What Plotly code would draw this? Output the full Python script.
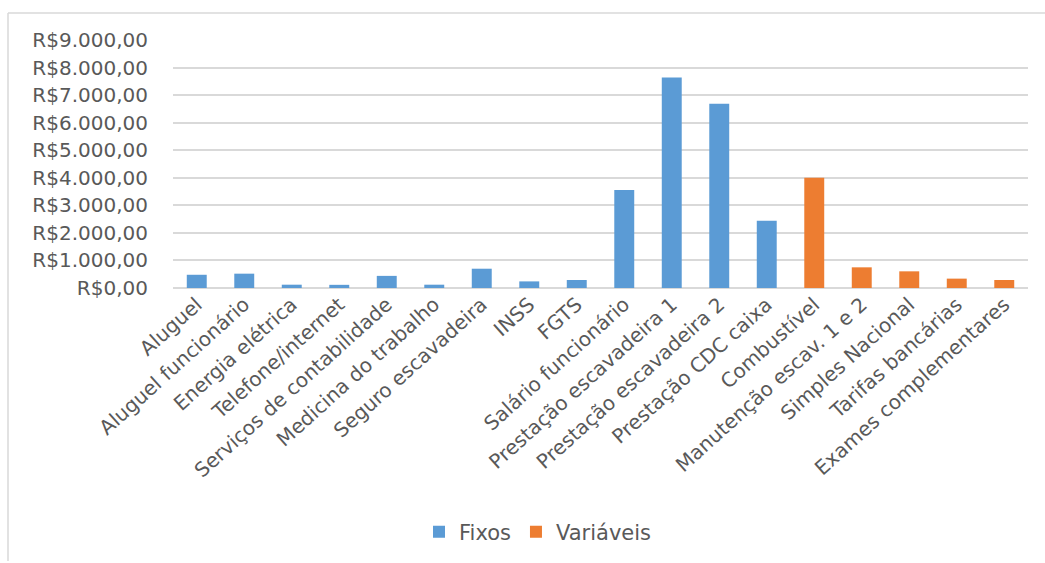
import plotly.graph_objects as go

# Cost categories in chart order
categorias = [
    "Aluguel", "Aluguel funcionário", "Energia elétrica", "Telefone/internet",
    "Serviços de contabilidade", "Medicina do trabalho", "Seguro escavadeira",
    "INSS", "FGTS", "Salário funcionário", "Prestação escavadeira 1",
    "Prestação escavadeira 2", "Prestação CDC caixa", "Combustível",
    "Manutenção escav. 1 e 2", "Simples Nacional", "Tarifas bancárias",
    "Exames complementares",
]

# Fixed costs (R$)
fixos = [480, 520, 120, 115, 440, 120, 700, 240, 290, 3560, 7640, 6690, 2440,
         None, None, None, None, None]

# Variable costs (R$)
variaveis = [None] * 13 + [4000, 750, 605, 340, 290]

y_ticks = list(range(0, 9001, 1000))
y_labels = ["R$" + f"{v:,.2f}".replace(",", "X").replace(".", ",").replace("X", ".") for v in y_ticks]

FONT = "'DejaVu Sans', sans-serif"
GRAY_TXT = "#595959"
GRID = "#D9D9D9"

fig = go.Figure()
fig.add_trace(go.Bar(x=categorias, y=fixos, name="Fixos",
                     marker=dict(color="#5B9BD5", line=dict(width=0)), width=0.42))
fig.add_trace(go.Bar(x=categorias, y=variaveis, name="Variáveis",
                     marker=dict(color="#ED7D31", line=dict(width=0)), width=0.42))

L, R, T, B = 173, 17, 40, 274
W, H = 1045, 563
pw, ph = W - L - R, H - T - B

fig.update_layout(
    width=W, height=H,
    margin=dict(l=L, r=R, t=T, b=B),
    barmode="overlay",
    plot_bgcolor="white", paper_bgcolor="white",
    font=dict(family=FONT, size=17, color=GRAY_TXT),
    showlegend=True,
    legend=dict(orientation="h", x=(538 - L) / pw, xanchor="center",
                y=-(532 - (T + ph)) / ph, yanchor="middle",
                font=dict(size=21, color=GRAY_TXT), itemwidth=30,
                traceorder="normal"),
    xaxis=dict(tickangle=-42, showgrid=False, showline=False, ticks="",
               tickfont=dict(size=20, color=GRAY_TXT), automargin=False),
    yaxis=dict(range=[0, 9000], tickvals=y_ticks, ticktext=y_labels,
               showgrid=True, gridcolor=GRID, gridwidth=1.5,
               zeroline=True, zerolinecolor=GRID, zerolinewidth=1.5,
               showline=False, ticks="outside", ticklen=20, tickcolor="rgba(0,0,0,0)",
               tickfont=dict(size=20, color=GRAY_TXT), automargin=False),
)

# Chart area frame (top and left edges)
def px_x(x):
    return (x - L) / pw

def px_y(y):
    return (H - B - y) / ph

fig.add_shape(type="line", xref="paper", yref="paper",
              x0=px_x(8), x1=px_x(1045), y0=px_y(13), y1=px_y(13),
              line=dict(color=GRID, width=1.5))
fig.add_shape(type="line", xref="paper", yref="paper",
              x0=px_x(8), x1=px_x(8), y0=px_y(13), y1=px_y(563),
              line=dict(color=GRID, width=1.5))

fig.write_html("out.html")
